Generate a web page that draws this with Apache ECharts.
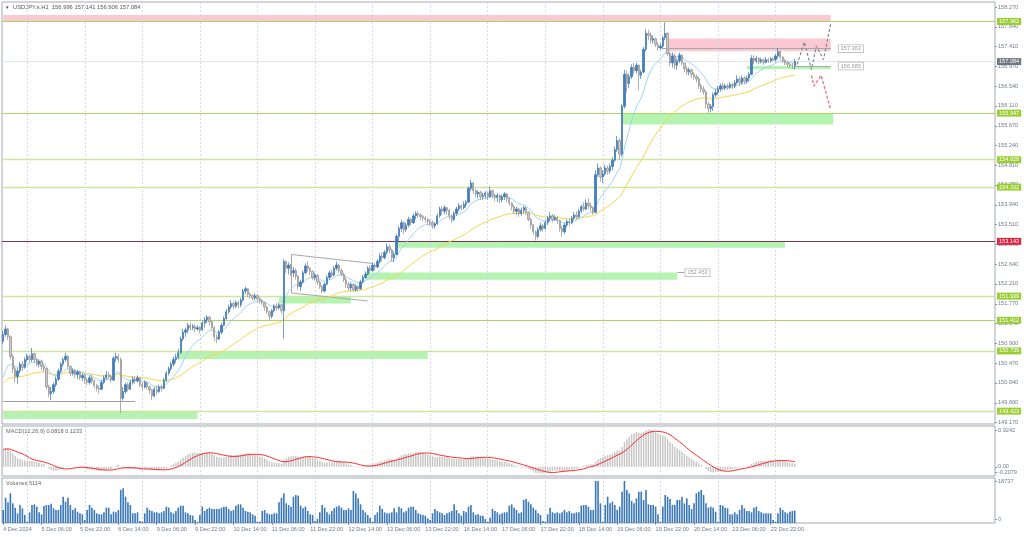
<!DOCTYPE html>
<html><head><meta charset="utf-8">
<script src="https://cdn.jsdelivr.net/npm/echarts@6/dist/echarts.min.js"></script>
<style>html,body{margin:0;padding:0;background:#fff}#c{width:1024px;height:537px}</style>
</head><body><div id="c"></div>
<script>
// ---------- DATA ----------
const symbolName = 'USDJPY,s.H1';
const firstOpen = 150.95;
const closes = [151.10,151.22,151.05,150.62,150.35,150.18,150.30,150.45,150.38,150.55,
150.62,150.55,150.68,150.55,150.45,150.52,150.40,150.35,149.95,149.80,
149.85,150.00,150.12,150.30,150.45,150.55,150.62,150.40,150.25,150.30,
150.22,150.28,150.15,150.20,150.10,150.05,150.15,150.08,149.98,149.92,
149.90,150.05,150.15,150.22,150.18,150.10,150.58,150.62,150.55,149.70,
149.85,150.00,149.90,150.05,150.12,150.08,150.15,150.00,149.95,150.05,
149.95,149.88,149.75,149.90,149.85,149.95,149.92,150.10,150.25,150.35,
150.45,150.55,150.60,150.70,151.00,151.15,151.20,151.30,151.25,151.28,
151.22,151.25,151.20,151.35,151.42,151.48,151.38,151.25,151.05,151.00,
151.15,151.30,151.45,151.60,151.70,151.78,151.72,151.80,151.75,151.85,
152.05,152.10,151.98,151.95,151.90,151.95,151.88,151.85,151.80,151.70,
151.60,151.50,151.62,151.72,151.68,151.75,151.62,152.70,152.55,152.62,
152.45,152.50,152.38,152.15,152.25,152.45,152.60,152.55,152.48,152.35,
152.40,152.25,152.15,152.05,152.20,152.35,152.45,152.40,152.55,152.62,
152.50,152.42,152.30,152.20,152.12,152.20,152.08,152.15,152.10,152.25,
152.35,152.42,152.55,152.50,152.62,152.58,152.70,152.82,152.78,152.90,
153.02,152.95,152.78,152.85,153.25,153.42,153.55,153.40,153.50,153.62,
153.55,153.70,153.75,153.72,153.68,153.65,153.62,153.58,153.55,153.48,
153.52,153.70,153.85,153.80,153.88,153.82,153.70,153.62,153.75,153.85,
153.92,153.88,153.95,154.00,154.30,154.42,154.25,154.18,154.22,154.12,
154.15,154.20,154.12,154.25,154.15,154.10,154.15,154.05,154.12,154.18,
154.08,153.98,153.90,153.80,153.85,153.75,153.82,153.88,153.78,153.62,
153.50,153.35,153.25,153.40,153.48,153.42,153.55,153.65,153.70,153.62,
153.66,153.60,153.42,153.35,153.50,153.58,153.55,153.65,153.72,153.68,
153.80,153.90,153.85,153.98,153.92,153.88,153.78,154.60,154.75,154.55,
154.62,154.75,154.68,154.78,154.92,155.15,155.35,155.05,156.10,156.80,
156.60,156.75,156.95,156.88,157.00,156.78,156.85,157.35,157.70,157.65,
157.55,157.58,157.45,157.38,157.42,157.60,157.70,157.25,157.05,157.20,
157.00,157.10,157.22,157.05,156.92,156.85,156.90,156.80,156.75,156.70,
156.55,156.48,156.42,156.15,156.05,156.10,156.35,156.40,156.48,156.55,
156.50,156.55,156.52,156.58,156.55,156.62,156.70,156.62,156.72,156.65,
156.72,156.80,157.15,157.10,157.15,157.08,157.12,157.06,157.12,157.10,
157.14,157.12,157.20,157.30,157.18,157.10,157.05,157.02,157.00,156.996,157.084];
const highs = [151.18,151.30,151.25,151.08,150.66,150.40,150.36,150.50,150.52,150.60,
150.68,150.66,150.80,150.70,150.58,150.56,150.55,150.45,150.38,150.00,
149.95,150.05,150.18,150.35,150.50,150.60,150.70,150.65,150.42,150.36,
150.34,150.32,150.30,150.25,150.24,150.15,150.20,150.22,150.12,150.02,
149.98,150.10,150.20,150.30,150.28,150.22,150.62,150.70,150.68,150.60,
149.95,150.05,150.05,150.10,150.18,150.18,150.20,150.16,150.05,150.10,
150.08,149.98,149.90,149.95,149.98,150.00,150.00,150.15,150.30,150.40,
150.50,150.62,150.68,150.78,151.05,151.22,151.25,151.35,151.36,151.33,
151.32,151.30,151.28,151.40,151.48,151.52,151.50,151.40,151.28,151.10,
151.20,151.35,151.50,151.66,151.75,151.85,151.82,151.85,151.84,151.90,
152.10,152.15,152.12,152.02,151.98,152.00,151.98,151.92,151.88,151.82,
151.72,151.62,151.66,151.76,151.78,151.80,151.76,152.75,152.72,152.68,
152.65,152.58,152.55,152.40,152.30,152.50,152.66,152.70,152.58,152.50,
152.45,152.42,152.28,152.18,152.24,152.40,152.50,152.52,152.60,152.70,
152.65,152.55,152.45,152.35,152.25,152.25,152.22,152.20,152.18,152.30,
152.40,152.48,152.60,152.62,152.68,152.66,152.75,152.88,152.90,152.95,
153.10,153.08,152.98,152.92,153.30,153.48,153.62,153.58,153.55,153.68,
153.66,153.75,153.80,153.80,153.76,153.72,153.70,153.66,153.62,153.60,
153.56,153.75,153.90,153.92,153.93,153.90,153.85,153.74,153.80,153.90,
153.98,153.96,154.02,154.05,154.35,154.49,154.45,154.30,154.26,154.25,
154.20,154.24,154.22,154.34,154.28,154.18,154.20,154.18,154.16,154.22,
154.20,154.10,154.00,153.94,153.90,153.88,153.88,153.92,153.90,153.80,
153.65,153.52,153.38,153.45,153.55,153.52,153.60,153.70,153.78,153.74,
153.72,153.70,153.62,153.48,153.55,153.62,153.64,153.70,153.78,153.80,
153.85,153.95,154.00,154.06,154.08,153.98,153.90,154.70,154.85,154.78,
154.70,154.82,154.80,154.84,154.98,155.22,155.45,155.40,156.15,156.90,
156.88,156.82,157.02,157.05,157.06,157.02,156.90,157.40,157.79,157.78,
157.72,157.66,157.60,157.50,157.48,157.65,157.94,157.72,157.30,157.28,
157.25,157.15,157.28,157.24,157.05,156.98,156.95,156.92,156.85,156.80,
156.75,156.60,156.55,156.45,156.20,156.15,156.40,156.48,156.55,156.60,
156.62,156.60,156.60,156.63,156.62,156.68,156.78,156.75,156.78,156.76,
156.78,156.85,157.22,157.22,157.20,157.18,157.17,157.15,157.18,157.16,
157.18,157.18,157.25,157.37,157.32,157.20,157.14,157.10,157.06,157.05,157.141];
const lows = [150.90,151.05,150.98,150.55,150.25,150.05,150.02,150.25,150.30,150.35,
150.50,150.48,150.50,150.48,150.40,150.38,150.32,150.28,149.90,149.72,
149.66,149.80,149.95,150.08,150.25,150.40,150.50,150.35,150.18,150.20,
150.15,150.12,150.10,150.08,150.02,149.98,150.00,150.02,149.92,149.85,
149.80,149.88,150.02,150.10,150.12,150.05,150.08,150.50,150.48,149.38,
149.65,149.80,149.85,149.88,150.00,150.02,150.05,149.95,149.88,149.92,
149.90,149.80,149.66,149.72,149.78,149.82,149.85,149.90,150.05,150.20,
150.30,150.40,150.48,150.55,150.68,150.95,151.05,151.12,151.18,151.20,
151.15,151.18,151.12,151.18,151.25,151.35,151.30,151.20,150.95,150.91,
150.98,151.10,151.28,151.42,151.55,151.65,151.65,151.68,151.68,151.70,
151.82,151.98,151.92,151.88,151.84,151.85,151.82,151.78,151.75,151.62,
151.55,151.42,151.45,151.58,151.62,151.65,151.55,151.01,152.45,152.42,
152.38,152.36,152.30,152.08,152.05,152.22,152.42,152.48,152.40,152.30,
152.28,152.18,152.10,152.00,152.02,152.18,152.30,152.35,152.38,152.50,
152.45,152.38,152.25,152.12,152.06,152.05,152.03,152.04,152.05,152.08,
152.22,152.32,152.40,152.45,152.48,152.50,152.55,152.66,152.70,152.75,
152.85,152.88,152.70,152.68,152.84,153.15,153.35,153.30,153.35,153.45,
153.48,153.52,153.62,153.65,153.60,153.58,153.55,153.50,153.48,153.42,
153.42,153.50,153.66,153.72,153.74,153.72,153.62,153.55,153.58,153.70,
153.80,153.82,153.84,153.88,153.98,154.25,154.18,154.10,154.08,154.05,
154.06,154.08,154.05,154.10,154.08,154.02,154.00,153.98,154.00,154.05,
154.00,153.92,153.82,153.74,153.72,153.68,153.70,153.75,153.72,153.58,
153.42,153.28,153.16,153.20,153.36,153.35,153.40,153.50,153.58,153.56,
153.58,153.52,153.35,153.25,153.30,153.45,153.48,153.52,153.60,153.62,
153.65,153.76,153.80,153.82,153.85,153.80,153.72,153.75,154.55,154.45,
154.42,154.58,154.60,154.62,154.70,154.88,155.10,154.92,155.00,156.05,
156.40,156.50,156.70,156.80,156.82,156.45,156.70,156.82,157.30,157.55,
157.48,157.48,157.40,157.32,157.33,157.35,157.55,157.20,156.98,156.95,
156.92,156.90,157.05,157.00,156.85,156.78,156.78,156.72,156.68,156.62,
156.48,156.40,156.35,156.05,155.96,155.97,156.00,156.30,156.35,156.42,
156.44,156.45,156.46,156.48,156.48,156.50,156.58,156.55,156.58,156.58,
156.60,156.65,156.78,157.02,157.05,157.02,157.04,157.00,157.04,157.05,
157.06,157.08,157.08,157.15,157.12,157.05,157.00,156.96,156.94,156.92,156.906];
const volumes = [5413,10549,8606,12353,8189,6385,4025,7495,6107,3331,
555,4442,7495,7773,6801,4442,3609,7079,7495,7495,
8050,6107,5413,5413,7495,10965,8883,10549,7495,5413,
6107,4719,4025,3609,1249,5413,7495,6385,5413,4025,
3609,3609,4442,6385,6385,3609,4719,4442,5413,13741,
14435,10965,8606,7495,4025,4025,4442,833,555,4025,
6385,5413,4997,4442,4442,4025,4442,4997,6801,6385,
4442,4025,4997,6385,7218,7218,4442,4025,3331,3054,
1249,555,3331,6801,4997,5830,6385,5830,5830,5830,
5830,6385,6801,6801,5830,4997,5413,7218,7773,7773,
6385,4997,4719,4442,3609,3054,555,555,4997,5413,
4025,3609,3609,4025,4025,8606,10549,12353,8189,7495,
6801,10965,11659,11382,7218,6107,6801,4997,3609,3331,
833,1666,4442,7495,6385,4442,3609,4997,6107,6801,
7218,6385,5413,5413,6107,5413,13325,12353,10271,7773,
5413,4442,3331,2221,555,3331,4442,7218,5830,4442,
4025,4025,4442,6107,4442,6801,6107,4442,4997,6385,
6801,6801,5413,4025,3609,3331,3054,1943,1249,4025,
5830,4997,4442,4025,3331,4025,4442,4997,7773,5413,
4025,3054,4997,4442,6801,7495,4442,3331,3609,3054,
3054,1666,555,2221,5830,4997,4442,3609,4025,4442,
4442,7218,7773,6385,5413,4025,4442,9577,9994,8883,
7773,6385,5413,4025,3331,833,555,3609,6385,4442,
4025,4442,4025,4442,5413,4442,4997,4025,4025,4442,
4442,7218,7495,7495,6801,5413,5413,17489,17489,8189,
555,7495,10965,8189,8883,7495,5413,6801,13047,17489,
13741,12353,9161,8189,10271,13047,13047,9577,13741,7773,
7495,7495,6801,3609,555,6801,11659,10965,9994,7495,
7495,9577,9577,10965,8189,10271,7495,5830,8189,12353,
13047,13741,11659,8189,6385,6801,6385,4719,555,7495,
7218,6385,6107,3609,3609,4442,3609,5413,7495,6107,
4997,4997,4442,6385,6801,4997,4442,4025,4025,4025,
4025,1249,555,4025,6385,5413,4442,4025,4719,4997,5114];

const xTickLabels = ['4 Dec 2024','5 Dec 06:00','5 Dec 22:00','6 Dec 14:00','9 Dec 06:00','9 Dec 22:00',
  '10 Dec 14:00','11 Dec 06:00','11 Dec 22:00','12 Dec 14:00','13 Dec 06:00','13 Dec 22:00','16 Dec 14:00',
  '17 Dec 06:00','17 Dec 22:00','18 Dec 14:00','19 Dec 06:00','19 Dec 22:00','20 Dec 14:00','23 Dec 06:00','23 Dec 22:00'];
const dayStartIdx = [10,34,58,82,106,130,154,178,202,226,250,274,298,322];
const priceTicks = [158.270,157.840,157.410,156.970,156.540,156.110,155.670,155.240,154.810,154.380,153.940,
  153.510,153.070,152.640,152.210,151.770,151.340,150.900,150.470,150.040,149.600,149.170];
const macdRange = [-0.2079, 0.9242];
const macdLabelText = ['0.9242', '0.00'];
const macdLabelAt = [0.8336, 0];
const macdMinLabelText = ['-0.2079'];
const macdMinLabelAt = [-0.124];
const volRange = [0, 18737];
const volLabelText = ['18737', '0'];
const volLabelAt = [17198, 1665];
const macdShown = [0.0818, 0.1233];

const greenLevels = [157.962, 155.947, 154.929, 154.332, 151.939, 151.412, 150.739, 149.423];
const keyLevel = 153.143;
// zones: [fromBar, toBar, low, high]
const greenZones = [[310,345,156.91,156.983],[258,346,155.70,155.947],[164,326,153.00,153.143],
  [151,281,152.30,152.459],[115,145,151.78,151.932],[73,177,150.56,150.739],[0,81,149.25,149.423]];
const pinkZones = [[0,345,157.962,158.10],[277,345,157.305,157.584]];
// price tags: [fromBar, toBar, price]
const priceTags = [[275,345,157.363],[330,345,156.983],[281,284,152.453]];
const greyLevel = [[0,55,149.636]];
const wedgeLines = [[[120,152.853],[154,152.656]],[[120,152.009],[152,151.834]],[[120,152.853],[120,152.009]]];
const greyPath = [[331,157.013],[334,157.509],[337,156.904],[339,157.421],[342,157.123],[345,157.913]];
const redPath = [[337,156.779],[338,156.544],[341,156.779],[345,156.027]];
const liquidityLabels = [[7,151.329,'liquidity'],[87,150.825,'liquidity'],[126,151.834,'liquidity'],
  [157,152.344,'liquidity'],[169,153.148,'liquidity'],[0,149.532,'ity']];
const maSeeds = {fast:150.0, slow:150.0, ema12:150.55, ema26:150.17};

// ---------- DERIVED ----------
const nSlots = 414;
const cats = Array.from({length:nSlots}, (_, i) => 'b' + i);
const candles = closes.map((c, i) => {
  const o = i === 0 ? firstOpen : closes[i-1];
  return [o, c, Math.min(lows[i], o, c), Math.max(highs[i], o, c)];
});
function ema(arr, n, seed){ const a = 2/(n+1); let e = seed; return arr.map(v => +(e = e + a*(v - e)).toFixed(4)); }
const maFast = ema(closes, 13, maSeeds.fast);
const maSlow = ema(closes, 50, maSeeds.slow);
const e12 = ema(closes, 12, maSeeds.ema12), e26 = ema(closes, 26, maSeeds.ema26);
const macd = e12.map((v,i) => +(v - e26[i]).toFixed(4));
const signal = macd.map((v,i) => { const s = macd.slice(Math.max(0,i-8), i+1); return +(s.reduce((a,b)=>a+b,0)/s.length).toFixed(4); });

const FONT = 'Liberation Sans';
const AX = '#6f7b8a';
const txt = {fontFamily: FONT, fontSize: 5.6};
const lastTick = (xTickLabels.length - 1) * 16;
const tickFn = (i) => i % 16 === 0 && i <= lastTick;
const gridVLines = dayStartIdx.map(i => ({xAxis:i}));
const vGridMarker = {silent:true, z:1, symbol:['none','none'], label:{show:false},
  lineStyle:{color:'#d3d8e4', type:[2,2], width:1}, data:gridVLines};

function xAxisFor(g, labels){
  return {
    type:'category', gridIndex:g, data:cats, boundaryGap:true,
    axisLine:{show:false}, splitLine:{show:false},
    axisTick: labels ? {show:true, alignWithLabel:true, interval:tickFn, length:2, lineStyle:{color:'#8a94a0'}} : {show:false},
    axisLabel: labels ? {show:true, interval:tickFn, formatter:(v,i)=>xTickLabels[i/16], align:'left', margin:3, color:AX, ...txt} : {show:false}
  };
}
function yAxisFor(g, min, max, ticks, fmt){
  return {
    type:'value', gridIndex:g, position:'right', min, max, scale:true,
    axisLine:{show:false}, splitLine:{show:false},
    axisTick:{show:true, customValues:ticks, length:2, lineStyle:{color:'#8a94a0'}},
    axisLabel:{show:true, customValues:ticks, formatter:fmt, margin:3, color:AX, ...txt}
  };
}
const gridBase = {left:2, right:29, show:true, borderColor:'#a3aab3', borderWidth:1, backgroundColor:'transparent'};

const levelLines = greenLevels.map((v, k) => ({
  yAxis:v, lineStyle:{color: (k===0||k===1||k===5) ? '#a8d65e' : '#c9e6a0', width: (k===0||k===1||k===5) ? 1 : 1.4, type:'solid'},
  label:{show:true, position:'end', distance:2, formatter:v.toFixed(3), color:'#fff', backgroundColor:'#9acd32', padding:[1,2,0,2], ...txt}
}));
levelLines.push({yAxis:keyLevel, lineStyle:{color:'#7a3550', width:1, type:'solid'},
  label:{show:true, position:'end', distance:2, formatter:keyLevel.toFixed(3), color:'#fff', backgroundColor:'#dc2342', padding:[1,2,0,2], ...txt}});
const lastClose = closes[closes.length-1];
levelLines.push({yAxis:lastClose, lineStyle:{color:'#dfe3ea', width:1, type:'solid'},
  label:{show:true, position:'end', distance:2, formatter:lastClose.toFixed(3), color:'#fff', backgroundColor:'#6e7681', padding:[1,2,0,2], ...txt}});

const segLines = [];
priceTags.forEach(([a,b,p]) => segLines.push([
  {coord:[a,p], lineStyle:{color:'#a8a8a8', width:1, type:'solid'},
   label:{show:true, position:'end', distance: b - a > 5 ? 8 : 1, formatter:p.toFixed(3), color:'#9a9a9a',
     backgroundColor:'#fff', borderColor:'#b8b8b8', borderWidth:0.8, padding:[1,2,0,2], ...txt}},
  {coord:[b,p]}]));
greyLevel.forEach(([a,b,p]) => segLines.push([{coord:[a,p], lineStyle:{color:'#a0a0a0', width:1, type:'solid'}, label:{show:false}}, {coord:[b,p]}]));
wedgeLines.forEach(([s,e]) => segLines.push([{coord:s, lineStyle:{color:'#a8a8a8', width:1, type:'solid'}, label:{show:false}}, {coord:e}]));

const areaData = [];
pinkZones.forEach(([a,b,lo,hi]) => areaData.push([{xAxis:a, yAxis:hi, itemStyle:{color:'#f9c8d2'}}, {xAxis:b, yAxis:lo}]));
greenZones.forEach(([a,b,lo,hi]) => areaData.push([{xAxis:a, yAxis:hi, itemStyle:{color:'#b5f3b0'}}, {xAxis:b, yAxis:lo}]));

const lastC = candles[candles.length-1];
const header = symbolName + '  ' + [lastC[0], lastC[3], lastC[2], lastC[1]].map(v=>v.toFixed(3)).join(' ');

const chart = echarts.init(document.getElementById('c'), null, {renderer:'canvas'});
chart.setOption({
  animation:false,
  backgroundColor:'#ffffff',
  grid:[ {...gridBase, top:2, height:422}, {...gridBase, top:426, height:50}, {...gridBase, top:478, height:45} ],
  xAxis:[ xAxisFor(0,false), xAxisFor(1,false), xAxisFor(2,true) ],
  yAxis:[
    yAxisFor(0, 149.138, 158.386, priceTicks, v=>v.toFixed(3)),
    yAxisFor(1, macdRange[0], macdRange[1], macdLabelAt, v=> macdLabelText[macdLabelAt.indexOf(v)] ?? ''),
    yAxisFor(2, volRange[0], volRange[1], volLabelAt, v=> volLabelText[volLabelAt.indexOf(v)] ?? ''),
    yAxisFor(1, macdRange[0], macdRange[1], macdMinLabelAt, v=> macdMinLabelText[0])
  ],
  graphic:[
    {type:'text', x:5, y:7.5, style:{text:'\u25BC', fontSize:4.5, fill:'#444', verticalAlign:'middle', textVerticalAlign:'middle'}},
    {type:'text', x:13, y:7.5, style:{text:header, fontFamily:FONT, fontSize:5.8, fill:'#555', verticalAlign:'middle', textVerticalAlign:'middle'}},
    {type:'text', x:6, y:431, style:{text:'MACD(12,26,9) ' + macdShown[0].toFixed(4) + ' ' + macdShown[1].toFixed(4), fontFamily:FONT, fontSize:5.6, fill:'#666', verticalAlign:'middle', textVerticalAlign:'middle'}},
    {type:'text', x:6, y:483, style:{text:'Volumes ' + volumes[volumes.length-1], fontFamily:FONT, fontSize:5.6, fill:'#666', verticalAlign:'middle', textVerticalAlign:'middle'}}
  ],
  series:[
    {type:'line', xAxisIndex:0, yAxisIndex:0, data:[], silent:true, z:1,
     markArea:{silent:true, z:1, data:areaData}, markLine:vGridMarker},
    {type:'line', xAxisIndex:0, yAxisIndex:0, data:[], silent:true, z:2,
     markLine:{silent:true, z:2, symbol:['none','none'], animation:false, data:[...levelLines, ...segLines]}},
    {type:'line', xAxisIndex:0, yAxisIndex:0, data:maSlow, symbol:'none', z:3, lineStyle:{color:'#f8d548', width:1}},
    {type:'line', xAxisIndex:0, yAxisIndex:0, data:maFast, symbol:'none', z:3, lineStyle:{color:'#9fd4f2', width:1}},
    {type:'candlestick', xAxisIndex:0, yAxisIndex:0, data:candles, barWidth:1.8, z:4,
     itemStyle:{color:'#3f7fc0', color0:'#c9c9c9', borderColor:'#3873b0', borderColor0:'#8e8e8e', borderWidth:0.7}},
    {type:'line', xAxisIndex:0, yAxisIndex:0, data:greyPath, symbol:'none', z:5, lineStyle:{color:'#7f8a99', width:1.2, type:[3,2]}},
    {type:'line', xAxisIndex:0, yAxisIndex:0, data:redPath, symbol:'none', z:5, lineStyle:{color:'#f0607a', width:1.2, type:[3,2]}},
    {type:'line', xAxisIndex:0, yAxisIndex:0, data:[], silent:true, z:6,
     markPoint:{silent:true, symbol:'circle', symbolSize:0.1, itemStyle:{opacity:0},
       data: liquidityLabels.map(([i,p,t]) => ({coord:[i,p], value:t,
         label:{show:true, position:'right', distance:0, formatter:t, color:'#808080', ...txt}}))}},
    {type:'bar', xAxisIndex:1, yAxisIndex:1, data:macd, barWidth:1.4, itemStyle:{color:'#c4c4c4'}, z:2, markLine:vGridMarker},
    {type:'line', xAxisIndex:1, yAxisIndex:1, data:signal, symbol:'none', lineStyle:{color:'#ff2a2a', width:1}, z:3},
    {type:'bar', xAxisIndex:2, yAxisIndex:2, data:volumes, barWidth:1.6, itemStyle:{color:'#3a78b8'}, z:2, markLine:vGridMarker}
  ]
});
</script>
</body></html>
